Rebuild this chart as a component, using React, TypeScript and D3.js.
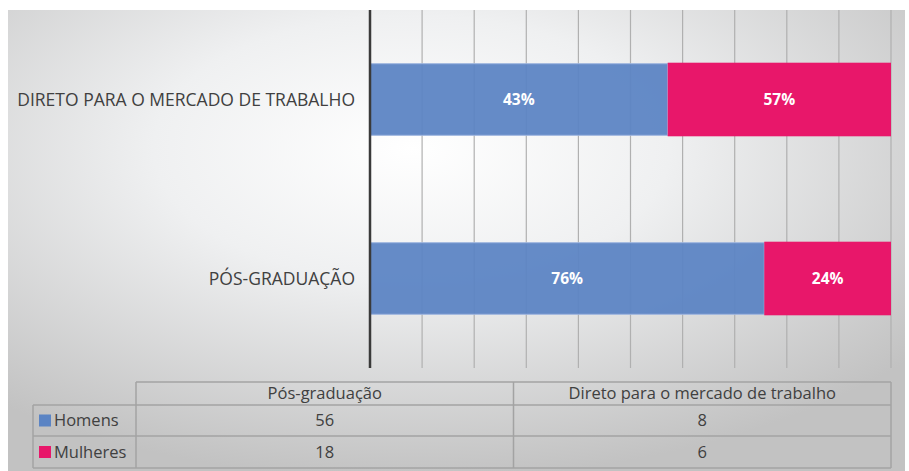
import React, { useRef, useEffect } from 'react'
import * as d3 from 'd3'

// dados
const categories = ['Pós-graduação', 'Direto para o mercado de trabalho']
const axisLabels = ['PÓS-GRADUAÇÃO', 'DIRETO PARA O MERCADO DE TRABALHO']
const seriesNames = ['Homens', 'Mulheres']
const homens = [56, 8]
const mulheres = [18, 6]
// rótulos como aparecem no gráfico original
const homensLabels = ['76%', '43%']
const mulheresLabels = ['24%', '57%']
const colors = ['#5b84c4', '#e8176a']

const W = 909
const H = 471

const App = () => {
	const svgRef = useRef<SVGSVGElement>(null)

	useEffect(() => {
		const svg = d3.select(svgRef.current)
		svg.selectAll('*').remove()
		const font = '"Open Sans", sans-serif'

		// fundo com gradiente
		const defs = svg.append('defs')
		const grad = defs
			.append('radialGradient')
			.attr('id', 'bg')
			.attr('cx', '0.45')
			.attr('cy', '0.3')
			.attr('r', '0.72')
		grad.append('stop').attr('offset', '0%').attr('stop-color', '#ffffff')
		grad.append('stop').attr('offset', '40%').attr('stop-color', '#eff0f1')
		grad.append('stop').attr('offset', '100%').attr('stop-color', '#c2c2c2')

		svg.append('rect').attr('width', W).attr('height', H).attr('fill', '#ffffff')
		svg
			.append('rect')
			.attr('x', 8)
			.attr('y', 10)
			.attr('width', W - 12)
			.attr('height', H - 10)
			.attr('fill', 'url(#bg)')

		const left = 370
		const right = 891
		const top = 10
		const bottom = 368

		const x = d3.scaleLinear().domain([0, 1]).range([left, right])
		const y = d3
			.scaleBand()
			.domain(categories.slice().reverse())
			.range([top, bottom])
			.paddingInner(0.6)
			.paddingOuter(0.3)

		// linhas de grade
		svg
			.append('g')
			.selectAll('line')
			.data(d3.range(0.1, 1.01, 0.1))
			.enter()
			.append('line')
			.attr('x1', d => x(d))
			.attr('x2', d => x(d))
			.attr('y1', top)
			.attr('y2', bottom)
			.attr('stroke', '#b0b0b0')
			.attr('stroke-width', 1.2)

		const rows = categories.map((c, i) => {
			const total = homens[i] + mulheres[i]
			return { c, h: homens[i] / total, m: mulheres[i] / total, i }
		})

		const g = svg.append('g')
		rows.forEach(r => {
			const y0 = y(r.c)!
			const bh = y.bandwidth()
			g.append('rect')
				.attr('x', x(0))
				.attr('y', y0)
				.attr('width', x(r.h) - x(0))
				.attr('height', bh)
				.attr('fill', colors[0])
				.attr('fill-opacity', 0.94)
				.attr('stroke', '#9fb6df')
				.attr('stroke-width', 1)
			g.append('rect')
				.attr('x', x(r.h))
				.attr('y', y0 - 1)
				.attr('width', x(1) - x(r.h))
				.attr('height', bh + 2)
				.attr('fill', colors[1])

			g.append('text')
				.attr('x', (x(0) + x(r.h)) / 2)
				.attr('y', y0 + bh / 2)
				.attr('dy', '0.35em')
				.attr('text-anchor', 'middle')
				.attr('fill', '#ffffff')
				.attr('font-family', font)
				.attr('font-weight', 700)
				.attr('font-size', 15.5)
				.text(homensLabels[r.i])
			g.append('text')
				.attr('x', (x(r.h) + x(1)) / 2)
				.attr('y', y0 + bh / 2)
				.attr('dy', '0.35em')
				.attr('text-anchor', 'middle')
				.attr('fill', '#ffffff')
				.attr('font-family', font)
				.attr('font-weight', 700)
				.attr('font-size', 15.5)
				.text(mulheresLabels[r.i])

			g.append('text')
				.attr('x', left - 15)
				.attr('y', y0 + bh / 2)
				.attr('dy', '0.35em')
				.attr('text-anchor', 'end')
				.attr('fill', '#404040')
				.attr('font-family', font)
				.attr('font-size', 17.5)
				.text(axisLabels[r.i])
		})

		// eixo vertical
		svg
			.append('line')
			.attr('x1', left)
			.attr('x2', left)
			.attr('y1', top)
			.attr('y2', bottom)
			.attr('stroke', '#3a3a3a')
			.attr('stroke-width', 2.5)

		// tabela de dados
		const tLeft = 33
		const c0 = 136
		const cx = d3.scaleBand().domain(categories).range([c0, right])
		const rowY = [382, 405, 436, 468]
		const line = '#a3a3a3'
		const tg = svg.append('g').attr('stroke', line).attr('stroke-width', 1.5)
		tg.append('line').attr('x1', c0).attr('x2', right).attr('y1', rowY[0]).attr('y2', rowY[0])
		rowY.slice(1).forEach(yy => {
			tg.append('line').attr('x1', tLeft).attr('x2', right).attr('y1', yy).attr('y2', yy)
		})
		tg.append('line').attr('x1', tLeft).attr('x2', tLeft).attr('y1', rowY[1]).attr('y2', rowY[3])
		;[c0, cx(categories[1])!, right].forEach(xx => {
			tg.append('line').attr('x1', xx).attr('x2', xx).attr('y1', rowY[0]).attr('y2', rowY[3])
		})

		const tt = svg
			.append('g')
			.attr('font-family', font)
			.attr('font-size', 16.5)
			.attr('fill', '#404040')
		categories.forEach(c => {
			tt.append('text')
				.attr('x', cx(c)! + cx.bandwidth() / 2)
				.attr('y', (rowY[0] + rowY[1]) / 2)
				.attr('dy', '0.35em')
				.attr('text-anchor', 'middle')
				.text(c)
		})
		const vals = [homens, mulheres]
		seriesNames.forEach((s, si) => {
			const ym = (rowY[si + 1] + rowY[si + 2]) / 2
			svg.append('rect')
				.attr('x', 39)
				.attr('y', ym - 6)
				.attr('width', 12)
				.attr('height', 12)
				.attr('fill', colors[si])
			tt.append('text')
				.attr('x', 54)
				.attr('y', ym)
				.attr('dy', '0.35em')
				.text(s)
			categories.forEach((c, ci) => {
				tt.append('text')
					.attr('x', cx(c)! + cx.bandwidth() / 2)
					.attr('y', ym)
					.attr('dy', '0.35em')
					.attr('text-anchor', 'middle')
					.text(vals[si][ci])
			})
		})
	}, [])

	return (
		<svg
			ref={svgRef}
			width={W}
			height={H}
			style={{ position: 'absolute', left: 0, top: 0, display: 'block' }}
		></svg>
	)
}

export default App
